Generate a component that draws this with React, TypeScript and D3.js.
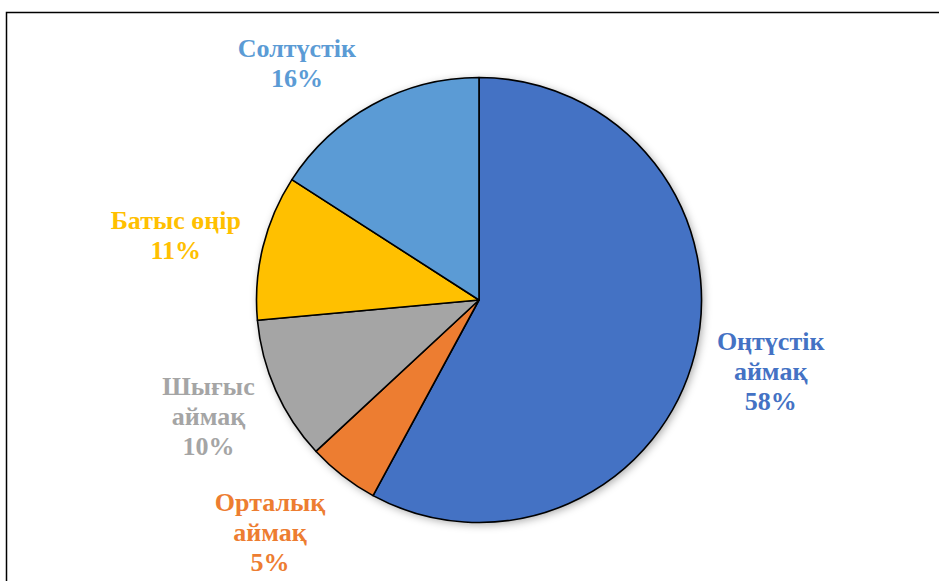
import React from "react";
import * as d3 from "d3";

const categories: string[][] = [
  ["Оңтүстік", "аймақ"],
  ["Орталық", "аймақ"],
  ["Шығыс", "аймақ"],
  ["Батыс өңір"],
  ["Солтүстік"],
];
const values: number[] = [57.9, 5.2, 10.45, 10.55, 15.9];
const colors: string[] = ["#4472C4", "#ED7D31", "#A5A5A5", "#FFC000", "#5B9BD5"];

// label nudges (layout, relative to the outer-arc anchor)
const labelNudges: [number, number][] = [
  [-4, -4],
  [-22, -9],
  [8, -8],
  [-7, 8],
  [-36, 31],
];

const W = 939;
const H = 581;
const CX = 479;
const CY = 300;
const R = 222.5;
const LABEL_R = 305;
const FONT = 26;
const LINE = 30;

export default function App() {
  const pie = d3
    .pie<number>()
    .sort(null)
    .startAngle(0)
    .endAngle(2 * Math.PI)(values);
  const arc = d3.arc<d3.PieArcDatum<number>>().innerRadius(0).outerRadius(R);
  const labelArc = d3
    .arc<d3.PieArcDatum<number>>()
    .innerRadius(LABEL_R)
    .outerRadius(LABEL_R);
  const total = d3.sum(values);

  return (
    <svg
      width={W}
      height={H}
      style={{ position: "absolute", left: 0, top: 0, background: "#fff" }}
    >
      <defs>
        <filter id="shadow" x="-20%" y="-20%" width="140%" height="140%">
          <feDropShadow dx="2" dy="2" stdDeviation="4" floodColor="#000" floodOpacity="0.35" />
        </filter>
      </defs>
      <rect x={6.5} y={12.5} width={W} height={H} fill="#fff" stroke="#000" strokeWidth={1.5} />
      <g transform={`translate(${CX},${CY})`}>
        <g filter="url(#shadow)">
          {pie.map((d, i) => (
            <path key={i} d={arc(d) || ""} fill={colors[i]} />
          ))}
        </g>
        {pie.map((d, i) => (
          <path
            key={"s" + i}
            d={arc(d) || ""}
            fill={colors[i]}
            stroke="#000"
            strokeWidth={1.6}
            strokeLinejoin="round"
          />
        ))}
        {pie.map((d, i) => {
          const [lx, ly] = labelArc.centroid(d);
          const x = lx + labelNudges[i][0];
          const y = ly + labelNudges[i][1];
          const pct = Math.round((values[i] / total) * 100) + "%";
          const lines = [...categories[i], pct];
          const first = y - ((lines.length - 1) * LINE) / 2 + 9;
          return (
            <text
              key={"t" + i}
              x={x}
              textAnchor="middle"
              fill={colors[i]}
              fontFamily="'Liberation Serif', 'Times New Roman', serif"
              fontWeight="bold"
              fontSize={FONT}
            >
              {lines.map((ln, j) => (
                <tspan key={j} x={x} y={first + j * LINE}>
                  {ln}
                </tspan>
              ))}
            </text>
          );
        })}
      </g>
    </svg>
  );
}
